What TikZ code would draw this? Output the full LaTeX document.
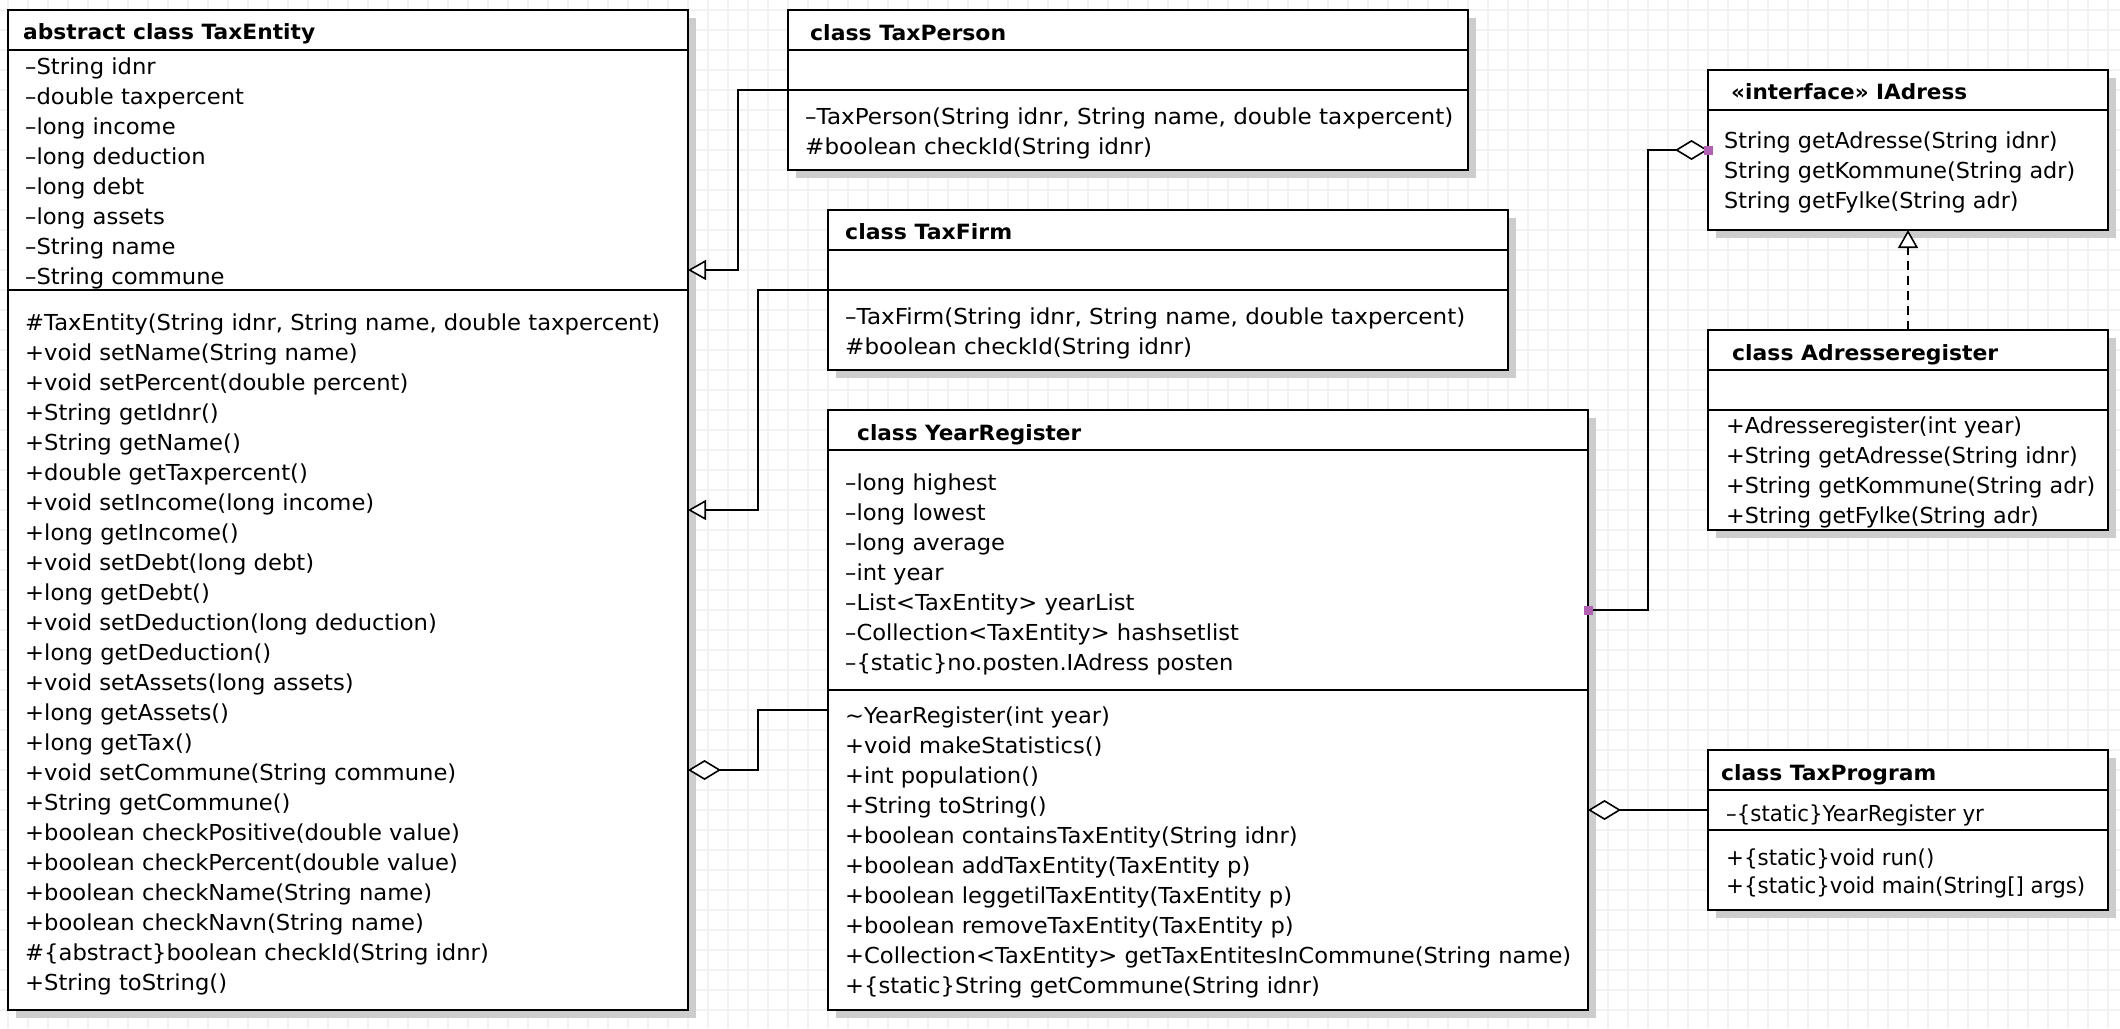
\documentclass[tikz,border=0pt]{standalone}
\usepackage{fontspec}
\setmainfont{DejaVu Sans}
\usepackage{graphicx}
\usetikzlibrary{arrows.meta,calc,shadows}
\definecolor{gridc}{RGB}{242,242,242}
\definecolor{shadowc}{RGB}{205,205,205}
\definecolor{purp}{RGB}{178,98,178}
\newlength\fitlen
\newcommand\bodyf{\fontsize{22}{30}\selectfont}
\newcommand\titlef{\fontsize{21}{30}\selectfont\bfseries}
\newcommand\mksc[3]{\settowidth\fitlen{#3}\pgfmathsetmacro#1{#2/\fitlen}}
\newcommand\cmp[2]{\scalebox{#1}[1]{\begin{tabular}[t]{@{}l@{}}#2\end{tabular}}}
\tikzset{
  cls/.style={draw, line width=2pt, fill=white, inner sep=0pt, outer sep=0pt, anchor=north west,
    drop shadow={shadow xshift=8pt, shadow yshift=-8pt, fill=shadowc, opacity=1}},
  sepline/.style={line width=2pt},
  txt/.style={anchor=base west, inner sep=0pt, font=\bodyf},
  ttl/.style={anchor=base west, inner sep=0pt, font=\titlef},
  conn/.style={line width=1.6pt},
  gen/.style={conn, -{Triangle[length=18pt, width=20pt, fill=white]}},
  agg/.style={conn, -{Diamond[length=33pt, width=20pt, fill=white]}},
  real/.style={gen, dash pattern=on 9pt off 6pt},
}
\begin{document}
\mksc\sTE{635}{\bodyf\#TaxEntity(String idnr, String name, double taxpercent)}%
\mksc\sTP{648}{\bodyf –TaxPerson(String idnr, String name, double taxpercent)}%
\mksc\sTF{620}{\bodyf –TaxFirm(String idnr, String name, double taxpercent)}%
\mksc\sYR{726}{\bodyf +Collection<TaxEntity> getTaxEntitesInCommune(String name)}%
\mksc\sIA{351}{\bodyf String getKommune(String adr)}%
\mksc\sAR{369}{\bodyf +String getKommune(String adr)}%
\mksc\sPG{359}{\bodyf +\{static\}void main(String[] args)}%
\mksc\tTE{292}{\titlef abstract class TaxEntity}%
\mksc\tTP{196}{\titlef class TaxPerson}%
\mksc\tTF{167}{\titlef class TaxFirm}%
\mksc\tYR{224}{\titlef class YearRegister}%
\mksc\tIA{236}{\titlef «interface» IAdress}%
\mksc\tAR{266}{\titlef class Adresseregister}%
\mksc\tPG{215}{\titlef class TaxProgram}%
\begin{tikzpicture}[x=1pt, y=-1pt]
\useasboundingbox (0,0) rectangle (2120,1028);
\fill[white] (0,0) rectangle (2120,1028);
% grid
\foreach \i in {0,...,105} \draw[gridc, line width=1.2pt] (8+20*\i,0) -- (8+20*\i,1028);
\foreach \j in {0,...,50} \draw[gridc, line width=1.2pt] (0,10+20*\j) -- (2120,10+20*\j);

% TaxEntity
\node[cls, minimum width=680pt, minimum height=1000pt] (te) at (8,10) {};
\draw[sepline] ($(te.north west)+(0,40)$) -- ($(te.north east)+(0,40)$);
\draw[sepline] ($(te.north west)+(0,280)$) -- ($(te.north east)+(0,280)$);
\node[ttl] (te-t) at (23,39) {\scalebox{\tTE}[1]{abstract class TaxEntity}};
\node[txt] (te-a) at (25,74) {\cmp{\sTE}{–String idnr\\–double taxpercent\\–long income\\–long deduction\\–long debt\\–long assets\\–String name\\–String commune}};
\node[txt] (te-m) at (25,330) {\cmp{\sTE}{\#TaxEntity(String idnr, String name, double taxpercent)\\+void setName(String name)\\+void setPercent(double percent)\\+String getIdnr()\\+String getName()\\+double getTaxpercent()\\+void setIncome(long income)\\+long getIncome()\\+void setDebt(long debt)\\+long getDebt()\\+void setDeduction(long deduction)\\+long getDeduction()\\+void setAssets(long assets)\\+long getAssets()\\+long getTax()\\+void setCommune(String commune)\\+String getCommune()\\+boolean checkPositive(double value)\\+boolean checkPercent(double value)\\+boolean checkName(String name)\\+boolean checkNavn(String name)\\\#\{abstract\}boolean checkId(String idnr)\\+String toString()}};

% TaxPerson
\node[cls, minimum width=680pt, minimum height=160pt] (tp) at (788,10) {};
\draw[sepline] ($(tp.north west)+(0,40)$) -- ($(tp.north east)+(0,40)$);
\draw[sepline] ($(tp.north west)+(0,80)$) -- ($(tp.north east)+(0,80)$);
\node[ttl] (tp-t) at (810,40) {\scalebox{\tTP}[1]{class TaxPerson}};
\node[txt] (tp-m) at (805,124) {\cmp{\sTP}{–TaxPerson(String idnr, String name, double taxpercent)\\\#boolean checkId(String idnr)}};

% TaxFirm
\node[cls, minimum width=680pt, minimum height=160pt] (tf) at (828,210) {};
\draw[sepline] ($(tf.north west)+(0,40)$) -- ($(tf.north east)+(0,40)$);
\draw[sepline] ($(tf.north west)+(0,80)$) -- ($(tf.north east)+(0,80)$);
\node[ttl] (tf-t) at (845,239) {\scalebox{\tTF}[1]{class TaxFirm}};
\node[txt] (tf-m) at (845,324) {\cmp{\sTF}{–TaxFirm(String idnr, String name, double taxpercent)\\\#boolean checkId(String idnr)}};

% YearRegister
\node[cls, minimum width=760pt, minimum height=600pt] (yr) at (828,410) {};
\draw[sepline] ($(yr.north west)+(0,40)$) -- ($(yr.north east)+(0,40)$);
\draw[sepline] ($(yr.north west)+(0,280)$) -- ($(yr.north east)+(0,280)$);
\node[ttl] (yr-t) at (857,440) {\scalebox{\tYR}[1]{class YearRegister}};
\node[txt] (yr-a) at (845,490) {\cmp{\sYR}{–long highest\\–long lowest\\–long average\\–int year\\–List<TaxEntity> yearList\\–Collection<TaxEntity> hashsetlist\\–\{static\}no.posten.IAdress posten}};
\node[txt] (yr-m) at (845,723) {\cmp{\sYR}{\textasciitilde YearRegister(int year)\\+void makeStatistics()\\+int population()\\+String toString()\\+boolean containsTaxEntity(String idnr)\\+boolean addTaxEntity(TaxEntity p)\\+boolean leggetilTaxEntity(TaxEntity p)\\+boolean removeTaxEntity(TaxEntity p)\\+Collection<TaxEntity> getTaxEntitesInCommune(String name)\\+\{static\}String getCommune(String idnr)}};

% IAdress
\node[cls, minimum width=400pt, minimum height=160pt] (ia) at (1708,70) {};
\draw[sepline] ($(ia.north west)+(0,40)$) -- ($(ia.north east)+(0,40)$);
\node[ttl] (ia-t) at (1731,99) {\scalebox{\tIA}[1]{«interface» IAdress}};
\node[txt] (ia-m) at (1724,148.5) {\cmp{\sIA}{String getAdresse(String idnr)\\String getKommune(String adr)\\String getFylke(String adr)}};

% Adresseregister
\node[cls, minimum width=400pt, minimum height=200pt] (ar) at (1708,330) {};
\draw[sepline] ($(ar.north west)+(0,40)$) -- ($(ar.north east)+(0,40)$);
\draw[sepline] ($(ar.north west)+(0,80)$) -- ($(ar.north east)+(0,80)$);
\node[ttl] (ar-t) at (1732,360) {\scalebox{\tAR}[1]{class Adresseregister}};
\node[txt] (ar-m) at (1726,433) {\cmp{\sAR}{+Adresseregister(int year)\\+String getAdresse(String idnr)\\+String getKommune(String adr)\\+String getFylke(String adr)}};

% TaxProgram
\node[cls, minimum width=400pt, minimum height=160pt] (pg) at (1708,750) {};
\draw[sepline] ($(pg.north west)+(0,40)$) -- ($(pg.north east)+(0,40)$);
\draw[sepline] ($(pg.north west)+(0,80)$) -- ($(pg.north east)+(0,80)$);
\node[ttl] (pg-t) at (1721,780) {\scalebox{\tPG}[1]{class TaxProgram}};
\node[txt] (pg-a) at (1726,821) {\cmp{\sPG}{–\{static\}YearRegister yr}};
\node[txt] (pg-m) at (1726,865) {\cmp{\sPG}{+\{static\}void run()\\[-2pt]+\{static\}void main(String[] args)}};

% connectors
\draw[gen] ($(tp.north west)+(0,80)$) -- ++(-50,0) |- ($(te.north east)+(0,260)$);
\draw[gen] ($(tf.north west)+(0,80)$) -- ++(-70,0) |- ($(te.north east)+(0,500)$);
\draw[agg] ($(yr.north west)+(0,300)$) -- ++(-70,0) |- ($(te.north east)+(0,760)$);
\draw[agg] ($(yr.north east)+(0,200)$) -- ++(60,0) |- ($(ia.north west)+(0,80)$);
\draw[agg] ($(pg.north west)+(0,60)$) -- ($(yr.north east)+(0,400)$);
\draw[real] ($(ar.north west)+(200,0)$) -- ($(ia.south west)+(200,0)$);
\fill[purp] ($(yr.north east)+(0,200)$) ++(-4.5,-4.5) rectangle ++(9,9);
\fill[purp] ($(ia.north west)+(0,80)$) ++(-4.5,-4.5) rectangle ++(9,9);
\end{tikzpicture}
\end{document}
